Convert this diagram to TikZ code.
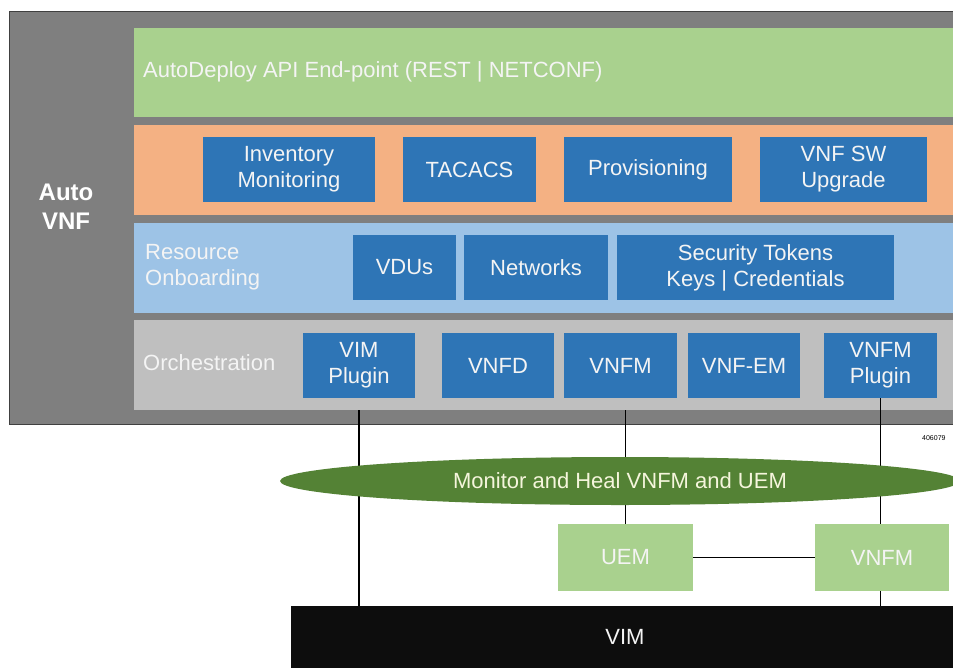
\documentclass[tikz,border=0pt]{standalone}
\usepackage{fontspec}
\setmainfont{Liberation Sans}
\usetikzlibrary{shapes.geometric}
\definecolor{outergray}{HTML}{7F7F7F}
\definecolor{bandgreen}{HTML}{A9D18E}
\definecolor{bandorange}{HTML}{F4B183}
\definecolor{bandblue}{HTML}{9DC3E6}
\definecolor{bandgray}{HTML}{BFBFBF}
\definecolor{boxblue}{HTML}{2E75B6}
\definecolor{ellgreen}{HTML}{548235}
\definecolor{vimblack}{HTML}{0D0D0D}
\definecolor{txtwhite}{HTML}{F4F4F4}
\tikzset{
  band/.style={draw=none, inner sep=0pt, anchor=north west},
  bluebox/.style={fill=boxblue, draw=none, inner sep=0pt, text=txtwhite, align=center,
    font=\fontsize{22}{26}\selectfont},
  lgbox/.style={fill=bandgreen, draw=none, inner sep=0pt, text=txtwhite, align=center,
    font=\fontsize{22}{26}\selectfont},
  lbl/.style={text=txtwhite, inner sep=0pt, anchor=west, align=left,
    font=\fontsize{22}{26}\selectfont},
  conn/.style={draw=black, line width=1.5pt},
}
\begin{document}
\begin{tikzpicture}[x=1pt,y=-1pt]
\useasboundingbox (0,0) rectangle (953,667);
\clip (0,0) rectangle (953,667);
\fill[white] (0,0) rectangle (953,667);
% outer Auto VNF box
\node[band, fill=outergray, draw=black!75, line width=1.2pt, minimum width=1000pt, minimum height=413pt] (outer) at (9,11) {};
\node[text=white, align=center, font=\bfseries\fontsize{24}{29}\selectfont, inner sep=0pt] (autovnf) at (66,207) {Auto\\VNF};
% bands
\node[band, fill=bandgreen, minimum width=900pt, minimum height=89pt] (api) at (134,28) {};
\node[band, fill=bandorange, minimum width=900pt, minimum height=90pt] (mgmt) at (134,125) {};
\node[band, fill=bandblue, minimum width=900pt, minimum height=90pt] (res) at (134,223) {};
\node[band, fill=bandgray, minimum width=900pt, minimum height=90pt] (orch) at (134,320) {};
% band labels
\node[lbl] (apitxt) at (143,72) {AutoDeploy API End-point (REST | NETCONF)};
\node[lbl] (restxt) at (145,267) {Resource\\Onboarding};
\node[lbl] (orchtxt) at (143,363) {Orchestration};
% orange row
\node[bluebox, minimum width=172pt, minimum height=65pt] (inv) at (289,169.5) {Inventory\\Monitoring};
\node[bluebox, minimum width=133pt, minimum height=65pt] (tacacs) at (469.5,169.5) {TACACS};
\node[bluebox, minimum width=168pt, minimum height=65pt] (prov) at (648,169.5) {Provisioning};
\node[bluebox, minimum width=167pt, minimum height=65pt] (swup) at (843.5,169.5) {VNF SW\\Upgrade};
% blue row
\node[bluebox, minimum width=103pt, minimum height=65pt] (vdus) at (404.5,267.5) {VDUs};
\node[bluebox, minimum width=144pt, minimum height=65pt] (nets) at (536,267.5) {Networks};
\node[bluebox, minimum width=277pt, minimum height=65pt] (sec) at (755.5,267.5) {Security Tokens\\Keys | Credentials};
% orchestration row
\node[bluebox, minimum width=112pt, minimum height=65pt] (vimp) at (359,365.5) {VIM\\Plugin};
\node[bluebox, minimum width=112pt, minimum height=65pt] (vnfd) at (498,365.5) {VNFD};
\node[bluebox, minimum width=113pt, minimum height=65pt] (vnfm) at (620.5,365.5) {VNFM};
\node[bluebox, minimum width=112pt, minimum height=65pt] (vnfem) at (744,365.5) {VNF-EM};
\node[bluebox, minimum width=113pt, minimum height=65pt] (vnfmp) at (880.5,365.5) {VNFM\\Plugin};
% lower boxes
\node[lgbox, minimum width=135pt, minimum height=67pt] (uem) at (625.5,557.5) {UEM};
\node[lgbox, minimum width=134pt, minimum height=67pt] (vnfm2) at (882,557.5) {VNFM};
\node[fill=vimblack, text=txtwhite, inner sep=0pt, minimum width=668pt, minimum height=62pt,
  font=\fontsize{22}{26}\selectfont] (vim) at (625,637) {VIM};
% connectors
\draw[conn] (orch.south -| vimp) -- (vim.north -| vimp);
\draw[conn] (orch.south -| uem) -- (uem.north);
\draw[conn] (vnfmp.south) -- (vnfm2.north -| vnfmp);
\draw[conn] (vnfm2.south -| vnfmp) -- (vim.north -| vnfmp);
\draw[conn] (uem.east) -- (vnfm2.west);
% ellipse
\node[ellipse, fill=ellgreen, draw=none, inner sep=0pt, minimum width=680pt, minimum height=48pt,
  text=txtwhite!90!yellow, font=\fontsize{22}{26}\selectfont] (heal) at (620,481) {Monitor and Heal VNFM and UEM};
% figure id
\node[anchor=west, inner sep=0pt, font=\fontsize{7}{8}\selectfont] (figid) at (922,438) {406079};
\end{tikzpicture}
\end{document}
